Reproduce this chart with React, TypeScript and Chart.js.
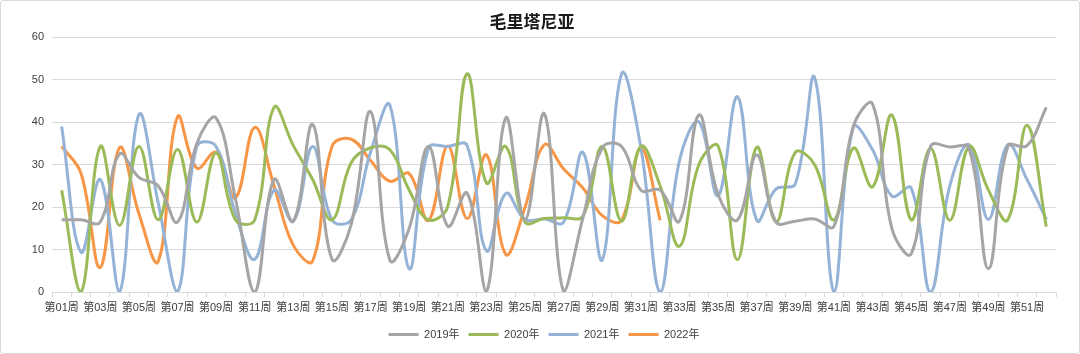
import React, { useEffect, useRef } from 'react';
import { Chart, registerables } from 'chart.js';

Chart.register(...registerables);

const weeks: string[] = Array.from({ length: 52 }, (_, i) => `第${String(i + 1).padStart(2, '0')}周`);

const y2019: number[] = [17, 17, 16.5, 32.5, 27, 25, 16.5, 35, 41, 22, 0, 26.5, 16.7, 39.5, 7.7, 16, 42.5, 7.5, 15, 34.3, 15.5, 23.3, 0, 41, 17, 42, 0, 17.5, 34, 34.3, 24, 24, 16.7, 41.7, 23, 17, 32.3, 16.5, 16.7, 17.2, 15.5, 39, 44.3, 15, 9, 34.3, 34.2, 33.8, 5.5, 34.3, 34.5, 43.5];
const y2020: number[] = [24, 0, 34.3, 15.7, 34.3, 17, 33.6, 16.5, 32.8, 17, 17, 43.5, 34.5, 26.5, 17, 30.5, 34, 33.5, 24, 17, 20.2, 51.4, 25.7, 34.3, 16.5, 17.3, 17.5, 17.9, 34.3, 16.7, 34.3, 25, 10.8, 30, 34.4, 7.6, 34.1, 16.5, 32.9, 30, 17, 33.9, 24.8, 41.7, 17, 33.9, 16.9, 34.3, 24, 17, 39.3, 15.4];
const y2021: number[] = [39, 9.4, 26.5, 0, 41.8, 21, 0, 34.3, 34.3, 18.5, 7.7, 24, 16.7, 34.3, 17, 17, 33, 44, 5.5, 33.9, 34.3, 34.5, 9.7, 23.2, 17.1, 17.2, 16.5, 32.9, 7.6, 51.4, 34, 0, 31, 40.1, 22.7, 46, 16.9, 24.3, 25.5, 50.5, 0, 38.8, 33.5, 22.6, 24.5, 0, 25, 34.7, 17.1, 34.7, 26.5, 17.1];
const y2022: number[] = [34.3, 28, 5.8, 34, 18.5, 7.2, 41.3, 29.2, 32.9, 22.2, 38.8, 25, 11, 7.3, 34.3, 36, 31, 26.1, 27.9, 16.9, 34.4, 17.3, 32.3, 8.9, 20, 34.7, 29, 24.5, 18, 16.9, 33.9, 16.9];

const seriesNames: string[] = ['2019年', '2020年', '2021年', '2022年'];
const seriesColors: string[] = ['#A5A5A5', '#9BBB59', '#95B3D7', '#F79646'];
const yTicks = { min: 0, max: 60, step: 10 };

const FONT = '"Liberation Sans", "Noto Sans CJK SC", sans-serif';

const legendShift = {
  id: 'legendShift',
  afterLayout(chart: any) {
    const lg = chart.legend;
    if (lg) {
      lg.left += 12;
      lg.right += 12;
    }
  },
};

export default function App() {
  const ref = useRef<HTMLCanvasElement | null>(null);

  useEffect(() => {
    if (!ref.current) return;
    const data = [y2019, y2020, y2021, y2022];
    const chart = new Chart(ref.current, {
      type: 'line',
      data: {
        labels: weeks,
        datasets: data.map((d, i) => ({
          label: seriesNames[i],
          data: d,
          borderColor: seriesColors[i],
          backgroundColor: seriesColors[i],
          borderWidth: 3,
          pointRadius: 0,
          tension: 0.4,
          fill: false,
        })),
      },
      plugins: [legendShift],
      options: {
        animation: false,
        responsive: true,
        maintainAspectRatio: false,
        layout: { padding: { left: 7, right: 23, top: 0, bottom: 3 } },
        plugins: {
          title: {
            display: true,
            text: '毛里塔尼亚',
            color: '#1a1a1a',
            font: { size: 17, weight: 'bold', family: FONT },
            padding: { top: 12, bottom: 4 },
          },
          legend: {
            position: 'bottom',
            labels: {
              boxWidth: 30,
              boxHeight: 3,
              padding: 9,
              color: '#404040',
              font: { size: 11, family: FONT },
              generateLabels: (c: any) =>
                Chart.defaults.plugins.legend.labels.generateLabels(c).map((l: any) => ({ ...l, lineWidth: 0 })),
            },
          },
          tooltip: { enabled: false },
        },
        scales: {
          x: {
            offset: true,
            grid: { offset: true, drawOnChartArea: false, drawTicks: true, tickLength: 5, color: '#d9d9d9' },
            border: { display: true, color: '#d9d9d9' },
            ticks: {
              autoSkip: false,
              maxRotation: 0,
              padding: 4,
              color: '#404040',
              font: { size: 11, family: FONT },
              callback: (_v: any, i: number) => (i % 2 === 0 ? weeks[i] : ''),
            },
            afterFit: (s: any) => { s.height = 28; },
          },
          y: {
            min: yTicks.min,
            max: yTicks.max,
            ticks: { stepSize: yTicks.step, padding: 8, color: '#404040', font: { size: 11, family: FONT } },
            grid: { color: '#d9d9d9', drawTicks: false },
            border: { display: false },
            afterFit: (s: any) => { s.width = 44; },
          },
        },
      },
    });
    return () => chart.destroy();
  }, []);

  return (
    <div style={{ position: 'fixed', left: 0, top: 0, width: 1080, height: 354, boxSizing: 'border-box', border: '1px solid #d9d9d9', borderRadius: 3, background: '#fff' }}>
      <div style={{ position: 'relative', width: 1078, height: 352 }}>
        <canvas ref={ref} />
      </div>
    </div>
  );
}
